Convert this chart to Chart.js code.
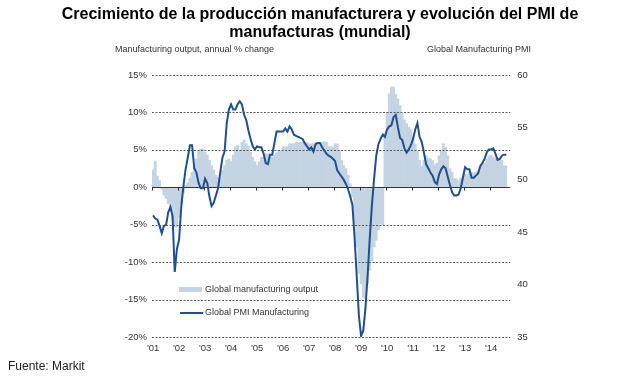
<!DOCTYPE html>
<html><head><meta charset="utf-8">
<script src="https://cdn.jsdelivr.net/npm/chart.js@4"></script>
<style>html,body{margin:0;padding:0;background:#fff;}#wrap{position:relative;width:639px;height:392px;}</style>
</head><body><div id="wrap"><canvas id="c" width="639" height="392"></canvas></div>
<script>
const titleLines = ['Crecimiento de la producción manufacturera y evolución del PMI de', 'manufacturas (mundial)'];
const leftAxisTitle = 'Manufacturing output, annual % change';
const rightAxisTitle = 'Global Manufacturing PMI';
const sourceText = 'Fuente: Markit';
const seriesNames = ['Global manufacturing output', 'Global PMI Manufacturing'];
const years = ['01','02','03','04','05','06','07','08','09','10','11','12','13','14'];
const monthNames = ['Jan','Feb','Mar','Apr','May','Jun','Jul','Aug','Sep','Oct','Nov','Dec'];
const leftTicks = [-20,-15,-10,-5,0,5,10,15];
const rightTicks = [35,40,45,50,55,60];

const outputValues = [
 2.3, 3.5, 1.5, 0.9, -0.3, -1.1, -1.5, -2.2, -3.1, -4.4, -5.3, -5.3,
 -4.0, -2.2, -0.8, 0.3, 0.6, 1.2, 2.0, 2.9, 3.8, 4.9, 5.1, 5.1,
 4.7, 4.3, 3.6, 2.9, 2.3, 1.6, 1.3, 1.3, 2.3, 2.9, 3.6, 3.8,
 3.4, 4.3, 5.4, 5.6, 5.0, 6.0, 6.3, 5.8, 5.5, 4.7, 4.0, 3.4,
 2.9, 3.4, 4.0, 4.0, 4.5, 4.5, 4.2, 4.0, 4.3, 4.6, 4.9, 4.9,
 5.4, 5.4, 5.4, 5.8, 5.8, 5.8, 6.0, 6.0, 6.0, 6.0, 6.0, 6.0,
 5.8, 5.8, 5.8, 6.0, 6.0, 6.0, 6.0, 6.1, 6.0, 5.4, 5.4, 5.4,
 5.8, 5.8, 4.9, 3.6, 2.9, 2.5, 1.6, 0.5, -1.3, -4.9, -8.0, -11.5,
 -12.9, -14.7, -14.9, -12.9, -11.1, -9.8, -8.0, -7.1, -5.7, -4.9, -5.0, 7.2,
 10.0, 12.5, 13.4, 13.4, 12.4, 11.8, 10.9, 9.8, 9.0, 8.5, 8.0, 7.7,
 6.7, 5.8, 4.8, 3.6, 2.8, 3.6, 4.2, 3.9, 3.8, 3.6, 3.0, 3.2,
 4.2, 4.8, 5.8, 5.3, 4.2, 2.5, 2.0, 1.2, 1.1, 0.9, 1.2, 1.4,
 1.8, 1.7, 2.0, 2.0, 1.9, 2.0, 2.2, 2.7, 3.0, 3.2, 3.8, 4.2,
 4.3, 4.0, 3.9, 3.6, 3.8, 3.6, 2.9, 2.8
];
const pmiValues = [
 46.6, 46.3, 46.2, 45.6, 44.9, 45.6, 45.7, 46.9, 47.4, 46.5, 41.2, 43.4,
 44.3, 47.4, 49.4, 51.0, 52.1, 53.3, 53.3, 51.1, 50.7, 49.7, 49.2, 49.2,
 50.1, 49.7, 48.4, 47.5, 47.8, 48.5, 49.2, 50.7, 52.1, 52.7, 55.4, 56.7,
 57.2, 56.7, 56.7, 57.2, 57.5, 57.2, 56.2, 55.7, 54.7, 53.9, 53.2, 52.9,
 53.2, 53.1, 53.1, 52.5, 51.6, 51.5, 52.4, 52.4, 53.5, 54.6, 54.6, 54.6,
 54.6, 54.9, 54.6, 55.1, 54.8, 54.3, 54.2, 54.1, 54.0, 53.9, 53.5, 53.2,
 52.9, 53.1, 52.7, 53.4, 53.5, 53.5, 53.1, 52.8, 52.5, 52.3, 52.2, 52.0,
 51.8, 50.9, 50.6, 50.3, 50.0, 49.6, 49.1, 48.4, 47.6, 44.5, 40.8, 37.0,
 35.1, 35.6, 37.7, 40.8, 44.4, 47.6, 50.1, 52.3, 53.4, 53.9, 54.3, 54.1,
 54.8, 55.1, 55.2, 56.0, 56.2, 55.0, 54.0, 53.8, 53.0, 52.6, 52.9, 53.3,
 53.9, 54.8, 55.4, 54.1, 53.6, 52.6, 51.5, 51.1, 50.7, 50.4, 49.8, 49.6,
 50.5, 51.0, 51.3, 51.1, 50.3, 49.5, 48.8, 48.5, 48.5, 48.6, 49.2, 50.2,
 51.2, 51.0, 51.0, 50.2, 50.2, 50.4, 50.6, 51.3, 51.6, 52.0, 52.6, 52.9,
 52.9, 53.0, 52.5, 51.9, 52.0, 52.3, 52.4, 52.4
];

const categories = [];
years.forEach(y => monthNames.forEach(m => categories.push(m + " '" + y)));
categories.length = outputValues.length;

const BAR_COLOR = '#c4d4e2';
const LINE_COLOR = '#1f4f8e';
const TEXT_COLOR = '#333333';
const FONT = '"Liberation Sans", Arial, sans-serif';

const gridPlugin = {
  id: 'gridOverBars',
  afterDatasetDraw(chart, args) {
    if (args.index !== 1) return;
    const ctx = chart.ctx, ys = chart.scales.y, xs = chart.scales.x;
    const L = chart.chartArea.left, R = chart.chartArea.right + 3;
    ctx.save();
    ctx.lineWidth = 1;
    ctx.strokeStyle = '#5a5a5a';
    ctx.setLineDash([2, 1.5]);
    leftTicks.forEach(v => {
      if (v === 0) return;
      const y = Math.round(ys.getPixelForValue(v)) + 0.5;
      ctx.beginPath(); ctx.moveTo(L, y); ctx.lineTo(R, y); ctx.stroke();
    });
    ctx.setLineDash([]);
    ctx.strokeStyle = '#333';
    const y0 = Math.round(ys.getPixelForValue(0)) + 0.5;
    ctx.beginPath(); ctx.moveTo(L, y0); ctx.lineTo(R, y0); ctx.stroke();
    for (let i = 0; i < categories.length; i += 12) {
      const x = Math.round(xs.getPixelForValue(i) - xs.width / categories.length / 2) + 0.5;
      ctx.beginPath(); ctx.moveTo(x, y0); ctx.lineTo(x, y0 + 3); ctx.stroke();
    }
    ctx.restore();
  },
  afterDraw(chart) {
    const ctx = chart.ctx;
    ctx.save();
    // title
    ctx.fillStyle = '#000';
    ctx.font = 'bold 16px ' + FONT;
    ctx.textBaseline = 'middle';
    ctx.textAlign = 'center';
    const targetW = [518, 182];
    const ty = [15, 33];
    titleLines.forEach((t, i) => {
      const w = ctx.measureText(t).width;
      const sx = Math.min(1, targetW[i] / w);
      ctx.save();
      ctx.translate(320, ty[i]);
      ctx.scale(sx, 1);
      ctx.fillText(t, 0, 0);
      ctx.restore();
    });
    // axis titles
    ctx.fillStyle = TEXT_COLOR;
    ctx.font = '9px ' + FONT;
    ctx.textAlign = 'left';
    ctx.fillText(leftAxisTitle, 115, 50);
    ctx.textAlign = 'right';
    ctx.fillText(rightAxisTitle, 531, 50);
    // legend
    ctx.textAlign = 'left';
    ctx.fillStyle = BAR_COLOR;
    ctx.fillRect(179, 287, 23, 5);
    ctx.strokeStyle = LINE_COLOR;
    ctx.lineWidth = 2;
    ctx.beginPath(); ctx.moveTo(180, 313); ctx.lineTo(203, 313); ctx.stroke();
    ctx.fillStyle = TEXT_COLOR;
    ctx.fillText(seriesNames[0], 205, 290);
    ctx.fillText(seriesNames[1], 205, 313);
    // source
    ctx.font = '12px ' + FONT;
    ctx.fillStyle = '#222';
    ctx.fillText(sourceText, 8, 367);
    ctx.restore();
  }
};

new Chart(document.getElementById('c'), {
  type: 'bar',
  data: {
    labels: categories,
    datasets: [
      { type: 'line', label: seriesNames[1], data: pmiValues, yAxisID: 'y2', order: 0,
        borderColor: LINE_COLOR, borderWidth: 2, pointRadius: 0, tension: 0, fill: false },
      { type: 'bar', label: seriesNames[0], data: outputValues, yAxisID: 'y', order: 1,
        backgroundColor: BAR_COLOR, borderWidth: 0, barPercentage: 1, categoryPercentage: 1 }
    ]
  },
  options: {
    responsive: false, animation: false, devicePixelRatio: 1,
    layout: { padding: { top: 75, left: 0, right: 0, bottom: 0 } },
    plugins: { legend: { display: false }, tooltip: { enabled: false }, title: { display: false } },
    scales: {
      x: {
        type: 'category', offset: true,
        grid: { display: false, drawTicks: false }, border: { display: false },
        ticks: {
          autoSkip: false, maxRotation: 0, minRotation: 0, padding: 6,
          color: TEXT_COLOR, font: { family: FONT, size: 9.5 },
          callback: (v, i) => (i % 12 === 0) ? "'" + years[i / 12] : null
        },
        afterFit: s => { s.height = 55; }
      },
      y: {
        position: 'left', min: -20, max: 15,
        grid: { display: false, drawTicks: false }, border: { display: false },
        ticks: { stepSize: 5, padding: 5, color: TEXT_COLOR, font: { family: FONT, size: 9.5 },
          callback: v => v + '%' },
        afterFit: s => { s.width = 152; }
      },
      y2: {
        position: 'right', min: 35, max: 60,
        grid: { display: false, drawTicks: false }, border: { display: false },
        ticks: { stepSize: 5, padding: 10, color: TEXT_COLOR, font: { family: FONT, size: 9.5 } },
        afterFit: s => { s.width = 639 - 152 - 164 * 26 / 12; }
      }
    }
  },
  plugins: [gridPlugin]
});
</script>
</body></html>
